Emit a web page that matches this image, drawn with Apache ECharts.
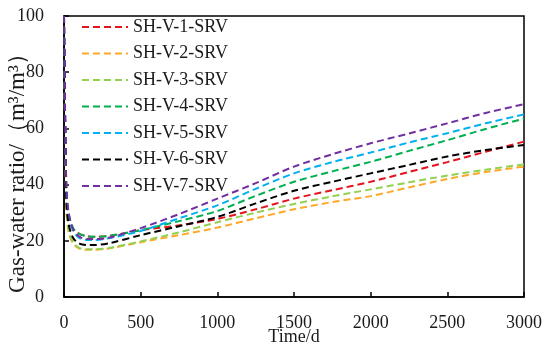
<!DOCTYPE html>
<html>
<head>
<meta charset="utf-8">
<script src="https://cdn.jsdelivr.net/npm/echarts@6/dist/echarts.min.js"></script>
<style>html,body{margin:0;padding:0;background:#fff}#c{width:550px;height:355px}</style>
</head>
<body>
<div id="c"></div>
<script>
var time = [0, 15, 30, 60, 100, 150, 200, 300, 500, 750, 1000, 1250, 1500, 1750, 2000, 2250, 2500, 2750, 3000];
var seriesNames = ["SH-V-1-SRV", "SH-V-2-SRV", "SH-V-3-SRV", "SH-V-4-SRV", "SH-V-5-SRV", "SH-V-6-SRV", "SH-V-7-SRV"];
var sv1 = [100, 38, 29, 24, 22.5, 21.6, 21.4, 21.8, 23.8, 25.5, 27.8, 31.2, 35, 38, 41, 44.5, 48, 51.7, 55.3];
var sv2 = [100, 32, 23, 19, 17.2, 16.8, 16.8, 17.3, 19.5, 22, 24.7, 28, 31.2, 33.8, 35.9, 39, 42, 44.5, 46.4];
var sv3 = [100, 33, 24, 19.5, 17.5, 17, 17, 17.5, 19.8, 23, 26.6, 30, 33.1, 35.8, 38.3, 40.8, 43.2, 45.3, 47.2];
var sv4 = [100, 39, 30, 24.5, 22.5, 21.6, 21.4, 21.8, 23.8, 27, 30.6, 36, 41, 44.7, 48.1, 52, 55.8, 59.8, 63.5];
var sv5 = [100, 38, 29, 23.5, 21, 20.3, 20.3, 21, 23.5, 28, 32.6, 38.5, 44, 48, 51.4, 55, 58.3, 61.8, 65];
var sv6 = [100, 35, 26, 21, 19, 18.5, 18.5, 19.2, 22, 25.2, 28.5, 33.3, 37.8, 41, 44, 47, 50, 52.3, 54.1];
var sv7 = [100, 40, 30, 24, 21.5, 20.6, 20.6, 21.2, 24.5, 29.5, 35, 40.5, 46.4, 50.8, 54.7, 58.2, 61.8, 65.5, 68.6];
var values = [sv1, sv2, sv3, sv4, sv5, sv6, sv7];
var colors = ["#E3141B", "#FFA828", "#92D050", "#00B050", "#00B0F0", "#000000", "#7030A0"];
var xTicks = {min: 0, max: 3000, interval: 500};
var yTicks = {min: 0, max: 100, interval: 20};

var font = '"Liberation Serif", "Times New Roman", serif';
var chart = echarts.init(document.getElementById('c'), null, {renderer: 'canvas'});
var series = seriesNames.map(function (n, i) {
  return {
    name: n,
    type: 'line',
    symbol: 'none',
    smooth: 0.3,
    lineStyle: {color: colors[i], width: 2, type: [7, 4]},
    itemStyle: {color: colors[i]},
    data: time.map(function (t, k) { return [t, values[i][k]]; })
  };
});
chart.setOption({
  animation: false,
  backgroundColor: '#fff',
  textStyle: {fontFamily: font},
  grid: {left: 64, right: 26, top: 16, bottom: 58, show: true, borderColor: '#000', borderWidth: 1.5, containLabel: false, outerBoundsMode: 'none'},
  legend: {
    orient: 'vertical', left: 76, top: 12,
    itemWidth: 46, itemHeight: 14, itemGap: 6.5,
    itemStyle: {color: 'rgba(0,0,0,0)', borderWidth: 0, opacity: 0},
    textStyle: {fontFamily: font, fontSize: 18, color: '#1a1a1a', lineHeight: 20},
    data: seriesNames
  },
  xAxis: {
    type: 'value', min: xTicks.min, max: xTicks.max, interval: xTicks.interval,
    name: 'Time/d', nameLocation: 'middle', nameGap: 31, nameMoveOverlap: false,
    nameTextStyle: {fontFamily: font, fontSize: 18, color: '#1a1a1a'},
    axisLine: {lineStyle: {color: '#000', width: 1.5}},
    axisTick: {inside: true, length: 5, lineStyle: {color: '#000', width: 1.5}},
    axisLabel: {fontFamily: font, fontSize: 18, color: '#1a1a1a', margin: 17, formatter: function (v) { return String(v); }},
    splitLine: {show: false}
  },
  yAxis: {
    type: 'value', min: yTicks.min, max: yTicks.max, interval: yTicks.interval,
    name: 'Gas-water ratio/（m³/m³）', nameLocation: 'middle', nameGap: 35, nameMoveOverlap: false,
    nameTextStyle: {fontFamily: font, fontSize: 23, color: '#1a1a1a', padding: [0, 22, 0, 0]},
    axisLine: {lineStyle: {color: '#000', width: 1.5}},
    axisTick: {inside: true, length: 5, lineStyle: {color: '#000', width: 1.5}},
    axisLabel: {fontFamily: font, fontSize: 18, color: '#1a1a1a', margin: 20, formatter: function (v) { return String(v); }},
    splitLine: {show: false}
  },
  series: series
});
</script>
</body>
</html>
